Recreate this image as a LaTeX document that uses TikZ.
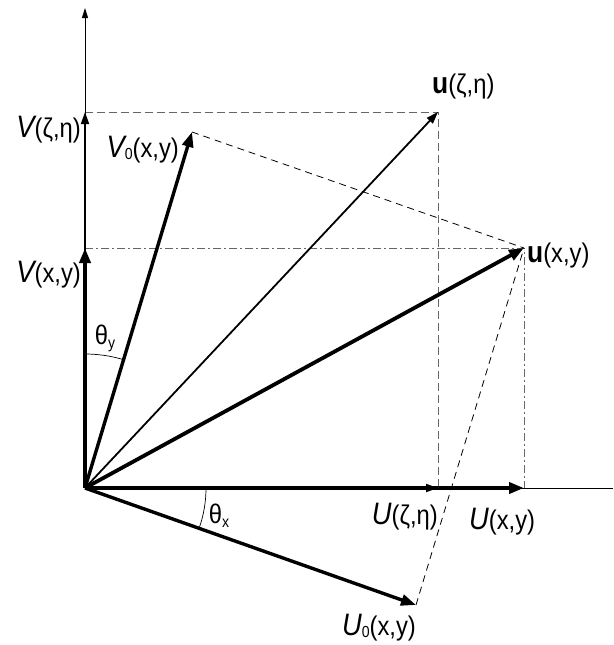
\documentclass[tikz,border=0pt]{standalone}
\usepackage{fontspec}
\setmainfont[FakeStretch=0.88]{Liberation Sans}
\usetikzlibrary{arrows.meta}
\newcommand{\capit}[1]{{\fontsize{31}{32}\selectfont\itshape #1}}
\newcommand{\subz}{\raisebox{-2pt}{\fontsize{16}{16}\selectfont 0}}
\newcommand{\bvec}[1]{{\fontsize{30}{32}\selectfont\bfseries #1}}
\begin{document}
\begin{tikzpicture}[x=1pt,y=-1pt,
  thickvec/.style={line width=3.8pt,-{Triangle[length=15pt,width=11pt]}},
  midvec/.style={line width=1.8pt,-{Triangle[length=12pt,width=8pt]}},
  axisline/.style={line width=1pt},
  guide/.style={draw=black!60, line width=0.9pt, dash pattern=on 8pt off 4pt},
  guidedd/.style={draw=black!60, line width=0.9pt, dash pattern=on 8pt off 3pt on 2pt off 3pt},
  proj/.style={line width=0.8pt, dash pattern=on 7pt off 5pt},
  lbl/.style={inner sep=0pt, font=\fontsize{27}{30}\selectfont},
  anglearc/.style={line width=0.7pt},
]
\useasboundingbox (0,0) rectangle (613,645);
% key points
\coordinate (O) at (85,488);
\coordinate (ytop) at (85,8);
\coordinate (xend) at (613,488);
\coordinate (Vxy) at (85,248);
\coordinate (Vze) at (85,112);
\coordinate (Uxy) at (524,488);
\coordinate (Uze) at (438,488);
\coordinate (uxy) at (524,248);
\coordinate (uze) at (438,112);
\coordinate (V0) at (192,132);
\coordinate (U0) at (416,605);
% guide lines
\draw[guide] (Vze) -- (uze) -- (Uze);
\draw[guidedd] (Vxy) -- (uxy) -- (Uxy);
% projection lines
\draw[proj] (V0) -- (uxy);
\draw[proj] (U0) -- (uxy);
% axes
\draw[axisline,-{Triangle[length=10pt,width=6pt]}] (O) -- (ytop);
\draw[axisline] (O) -- (xend);
% vectors
\draw[midvec] (O) -- (Vze);
\draw[midvec] (O) -- (Uze);
\draw[midvec] (O) -- (uze);
\draw[thickvec] (O) -- (Vxy);
\draw[thickvec] (O) -- (Uxy);
\draw[thickvec] (O) -- (uxy);
\draw[line width=3.4pt,-{Triangle[length=15pt,width=11pt]}] (O) -- (V0);
\draw[line width=3.4pt,-{Triangle[length=15pt,width=11pt]}] (O) -- (U0);
% angle arcs
\draw[anglearc] (O) ++(0,-134) arc[start angle=-90, end angle=-74, radius=134];
\draw[anglearc] (O) ++(121,0) arc[start angle=0, end angle=19, radius=121];
% labels
\node[lbl,anchor=east] (lVze) at (81,130) {\capit{V}(ζ,η)};
\node[lbl,anchor=east] (lVxy) at (81,275) {\capit{V}(x,y)};
\node[lbl,anchor=east] (lV0) at (179,150) {\capit{V}\subz(x,y)};
\node[lbl,anchor=west] (luze) at (432,87) {\bvec{u}(ζ,η)};
\node[lbl,anchor=west] (luxy) at (527,256) {\bvec{u}(x,y)};
\node[lbl,anchor=east] (lUze) at (438,517) {\capit{U}(ζ,η)};
\node[lbl,anchor=west] (lUxy) at (469,522) {\capit{U}(x,y)};
\node[lbl,anchor=east] (lU0) at (416,628) {\capit{U}\subz(x,y)};
\node[lbl] (thy) at (105,338) {θ\raisebox{-4pt}{\fontsize{16}{16}\selectfont y}};
\node[lbl] (thx) at (219,516) {θ\raisebox{-4pt}{\fontsize{16}{16}\selectfont x}};
\end{tikzpicture}
\end{document}
